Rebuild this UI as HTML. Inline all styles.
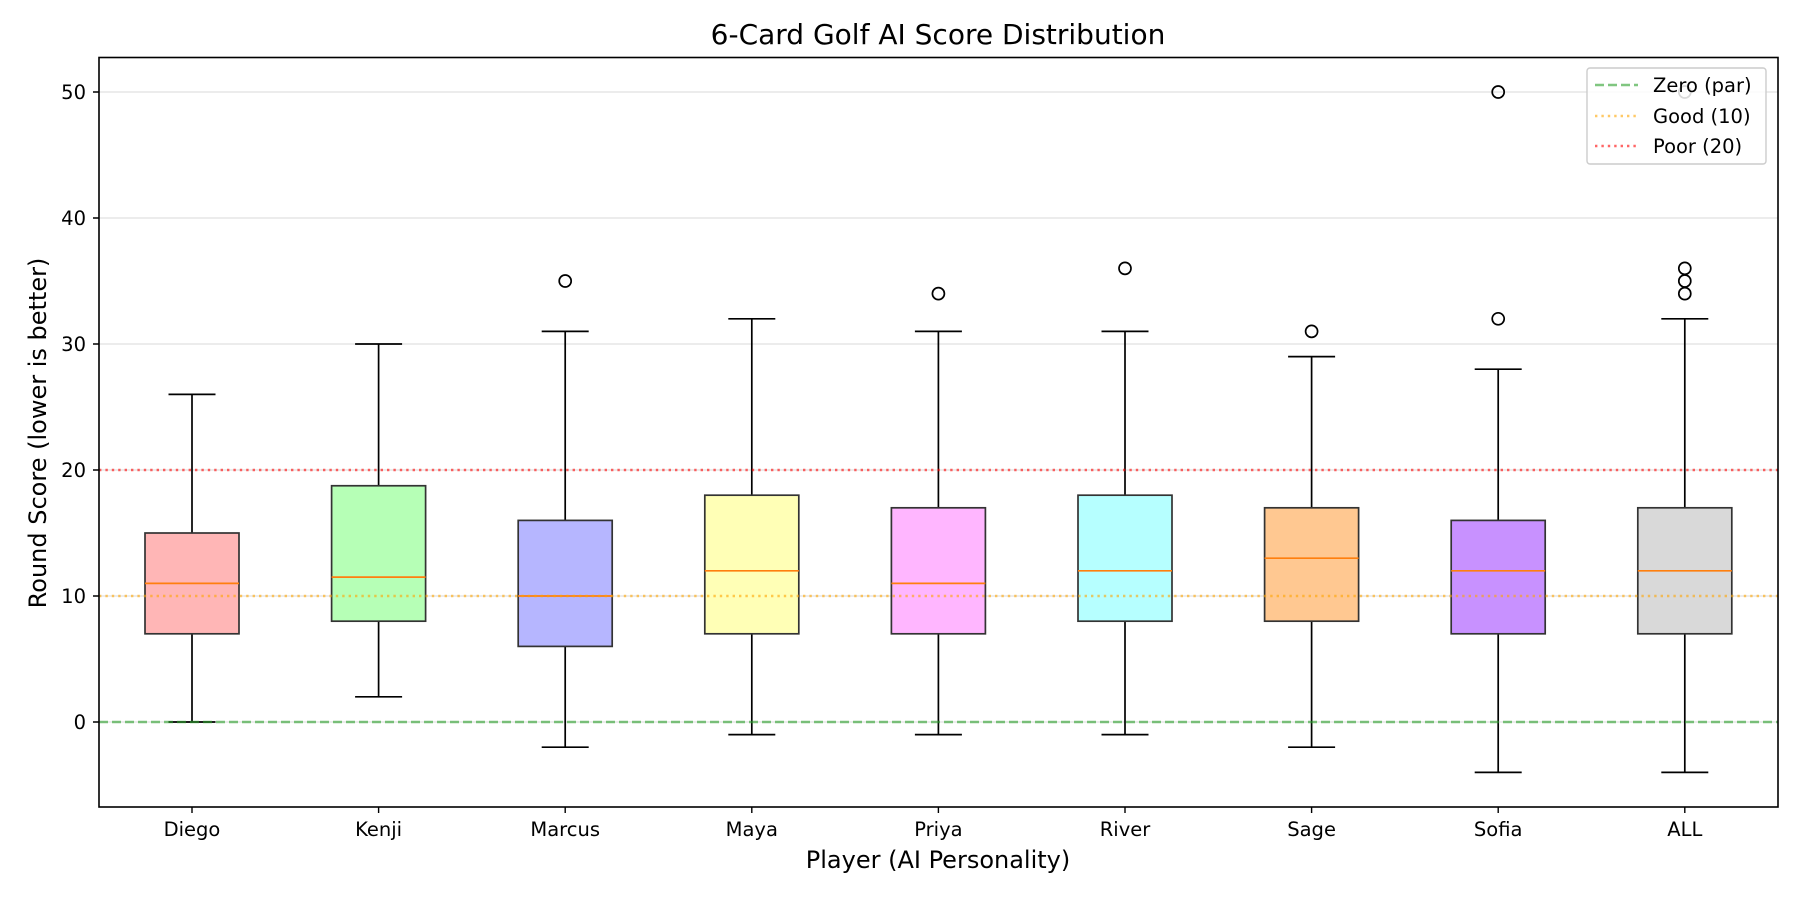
<!DOCTYPE html><html><head><style>body{margin:0;background:#fff}svg{display:block;font-family:"DejaVu Sans","Liberation Sans",sans-serif}</style></head><body>
<svg width="1800" height="900" viewBox="0 0 1800 900">
<rect width="1800" height="900" fill="#fff"/>
<g stroke="#e6e6e6" stroke-width="1.5">
<line x1="99" x2="1778" y1="722" y2="722"/><line x1="99" x2="1778" y1="596" y2="596"/><line x1="99" x2="1778" y1="470" y2="470"/><line x1="99" x2="1778" y1="344" y2="344"/><line x1="99" x2="1778" y1="218" y2="218"/><line x1="99" x2="1778" y1="92" y2="92"/></g>
<g stroke="#000" stroke-width="1.7" fill="none">
<path d="M192 633.8V722M168.5 722H215.5M192 533V394.4M168.5 394.4H215.5"/>
<path d="M378.6 621.2V696.8M355.1 696.8H402.1M378.6 485.75V344M355.1 344H402.1"/>
<path d="M565.2 646.4V747.2M541.7 747.2H588.7M565.2 520.4V331.4M541.7 331.4H588.7"/>
<path d="M751.8 633.8V734.6M728.3 734.6H775.3M751.8 495.2V318.8M728.3 318.8H775.3"/>
<path d="M938.4 633.8V734.6M914.9 734.6H961.9M938.4 507.8V331.4M914.9 331.4H961.9"/>
<path d="M1125 621.2V734.6M1101.5 734.6H1148.5M1125 495.2V331.4M1101.5 331.4H1148.5"/>
<path d="M1311.6 621.2V747.2M1288.1 747.2H1335.1M1311.6 507.8V356.6M1288.1 356.6H1335.1"/>
<path d="M1498.2 633.8V772.4M1474.7 772.4H1521.7M1498.2 520.4V369.2M1474.7 369.2H1521.7"/>
<path d="M1684.8 633.8V772.4M1661.3 772.4H1708.3M1684.8 507.8V318.8M1661.3 318.8H1708.3"/>
</g>
<g stroke="#333" stroke-width="1.7">
<rect x="145" y="533" width="94" height="100.8" fill="#FFB6B6"/>
<rect x="331.6" y="485.75" width="94" height="135.45" fill="#B6FFB6"/>
<rect x="518.2" y="520.4" width="94" height="126" fill="#B6B6FF"/>
<rect x="704.8" y="495.2" width="94" height="138.6" fill="#FFFFB6"/>
<rect x="891.4" y="507.8" width="94" height="126" fill="#FFB6FF"/>
<rect x="1078" y="495.2" width="94" height="126" fill="#B6FFFF"/>
<rect x="1264.6" y="507.8" width="94" height="113.4" fill="#FFC891"/>
<rect x="1451.2" y="520.4" width="94" height="113.4" fill="#C891FF"/>
<rect x="1637.8" y="507.8" width="94" height="126" fill="#D9D9D9"/>
</g>
<g stroke="#ff7f0e" stroke-width="1.7">
<line x1="145" x2="239" y1="583.4" y2="583.4"/><line x1="331.6" x2="425.6" y1="577.1" y2="577.1"/><line x1="518.2" x2="612.2" y1="596" y2="596"/><line x1="704.8" x2="798.8" y1="570.8" y2="570.8"/><line x1="891.4" x2="985.4" y1="583.4" y2="583.4"/><line x1="1078" x2="1172" y1="570.8" y2="570.8"/><line x1="1264.6" x2="1358.6" y1="558.2" y2="558.2"/><line x1="1451.2" x2="1545.2" y1="570.8" y2="570.8"/><line x1="1637.8" x2="1731.8" y1="570.8" y2="570.8"/></g>
<g fill="none" stroke="#000" stroke-width="1.7">
<circle cx="565.2" cy="281" r="6"/><circle cx="938.4" cy="293.6" r="6"/><circle cx="1125" cy="268.4" r="6"/><circle cx="1311.6" cy="331.4" r="6"/><circle cx="1498.2" cy="318.8" r="6"/><circle cx="1498.2" cy="92" r="6"/><circle cx="1684.8" cy="293.6" r="6"/><circle cx="1684.8" cy="281" r="6"/><circle cx="1684.8" cy="268.4" r="6"/><circle cx="1684.8" cy="92" r="6"/></g>
<line x1="99" x2="1778" y1="722" y2="722" stroke="#2ca02c" stroke-opacity="0.6" stroke-width="2.6" stroke-dasharray="9,4"/>
<line x1="99" x2="1778" y1="596" y2="596" stroke="#ffa500" stroke-opacity="0.6" stroke-width="2.4" stroke-dasharray="2.4,4"/>
<line x1="99" x2="1778" y1="470" y2="470" stroke="#ff0000" stroke-opacity="0.6" stroke-width="2.4" stroke-dasharray="2.4,4"/>
<rect x="99" y="57.5" width="1679" height="749.5" fill="none" stroke="#000" stroke-width="1.6"/>
<g stroke="#000" stroke-width="1.4">
<path d="M99 722h-6M99 596h-6M99 470h-6M99 344h-6M99 218h-6M99 92h-6"/>
<path d="M192 807v6M378.6 807v6M565.2 807v6M751.8 807v6M938.4 807v6M1125 807v6M1311.6 807v6M1498.2 807v6M1684.8 807v6"/></g>
<g font-size="19.5" text-anchor="end">
<text x="86" y="729">0</text><text x="86" y="603">10</text><text x="86" y="477">20</text><text x="86" y="351">30</text><text x="86" y="225">40</text><text x="86" y="99">50</text></g>
<g font-size="19.5" text-anchor="middle">
<text x="192" y="836">Diego</text><text x="378.6" y="836">Kenji</text><text x="565.2" y="836">Marcus</text><text x="751.8" y="836">Maya</text><text x="938.4" y="836">Priya</text><text x="1125" y="836">River</text><text x="1311.6" y="836">Sage</text><text x="1498.2" y="836">Sofia</text><text x="1684.8" y="836">ALL</text></g>
<text x="938" y="868" font-size="24" text-anchor="middle">Player (AI Personality)</text>
<text transform="translate(46 433) rotate(-90)" font-size="24" text-anchor="middle">Round Score (lower is better)</text>
<text x="938" y="44" font-size="28" text-anchor="middle">6-Card Golf AI Score Distribution</text>
<rect x="1587" y="68" width="179" height="96" rx="3" fill="#fff" fill-opacity="0.85" stroke="#ccc" stroke-width="1.4"/>
<line x1="1595" x2="1638" y1="85" y2="85" stroke="#2ca02c" stroke-opacity="0.6" stroke-width="2.6" stroke-dasharray="9,4"/>
<line x1="1595" x2="1638" y1="116" y2="116" stroke="#ffa500" stroke-opacity="0.6" stroke-width="2.4" stroke-dasharray="2.4,4"/>
<line x1="1595" x2="1638" y1="146" y2="146" stroke="#ff0000" stroke-opacity="0.6" stroke-width="2.4" stroke-dasharray="2.4,4"/>
<g font-size="19.5"><text x="1653" y="92">Zero (par)</text><text x="1653" y="123">Good (10)</text><text x="1653" y="153">Poor (20)</text></g>
</svg></body></html>
